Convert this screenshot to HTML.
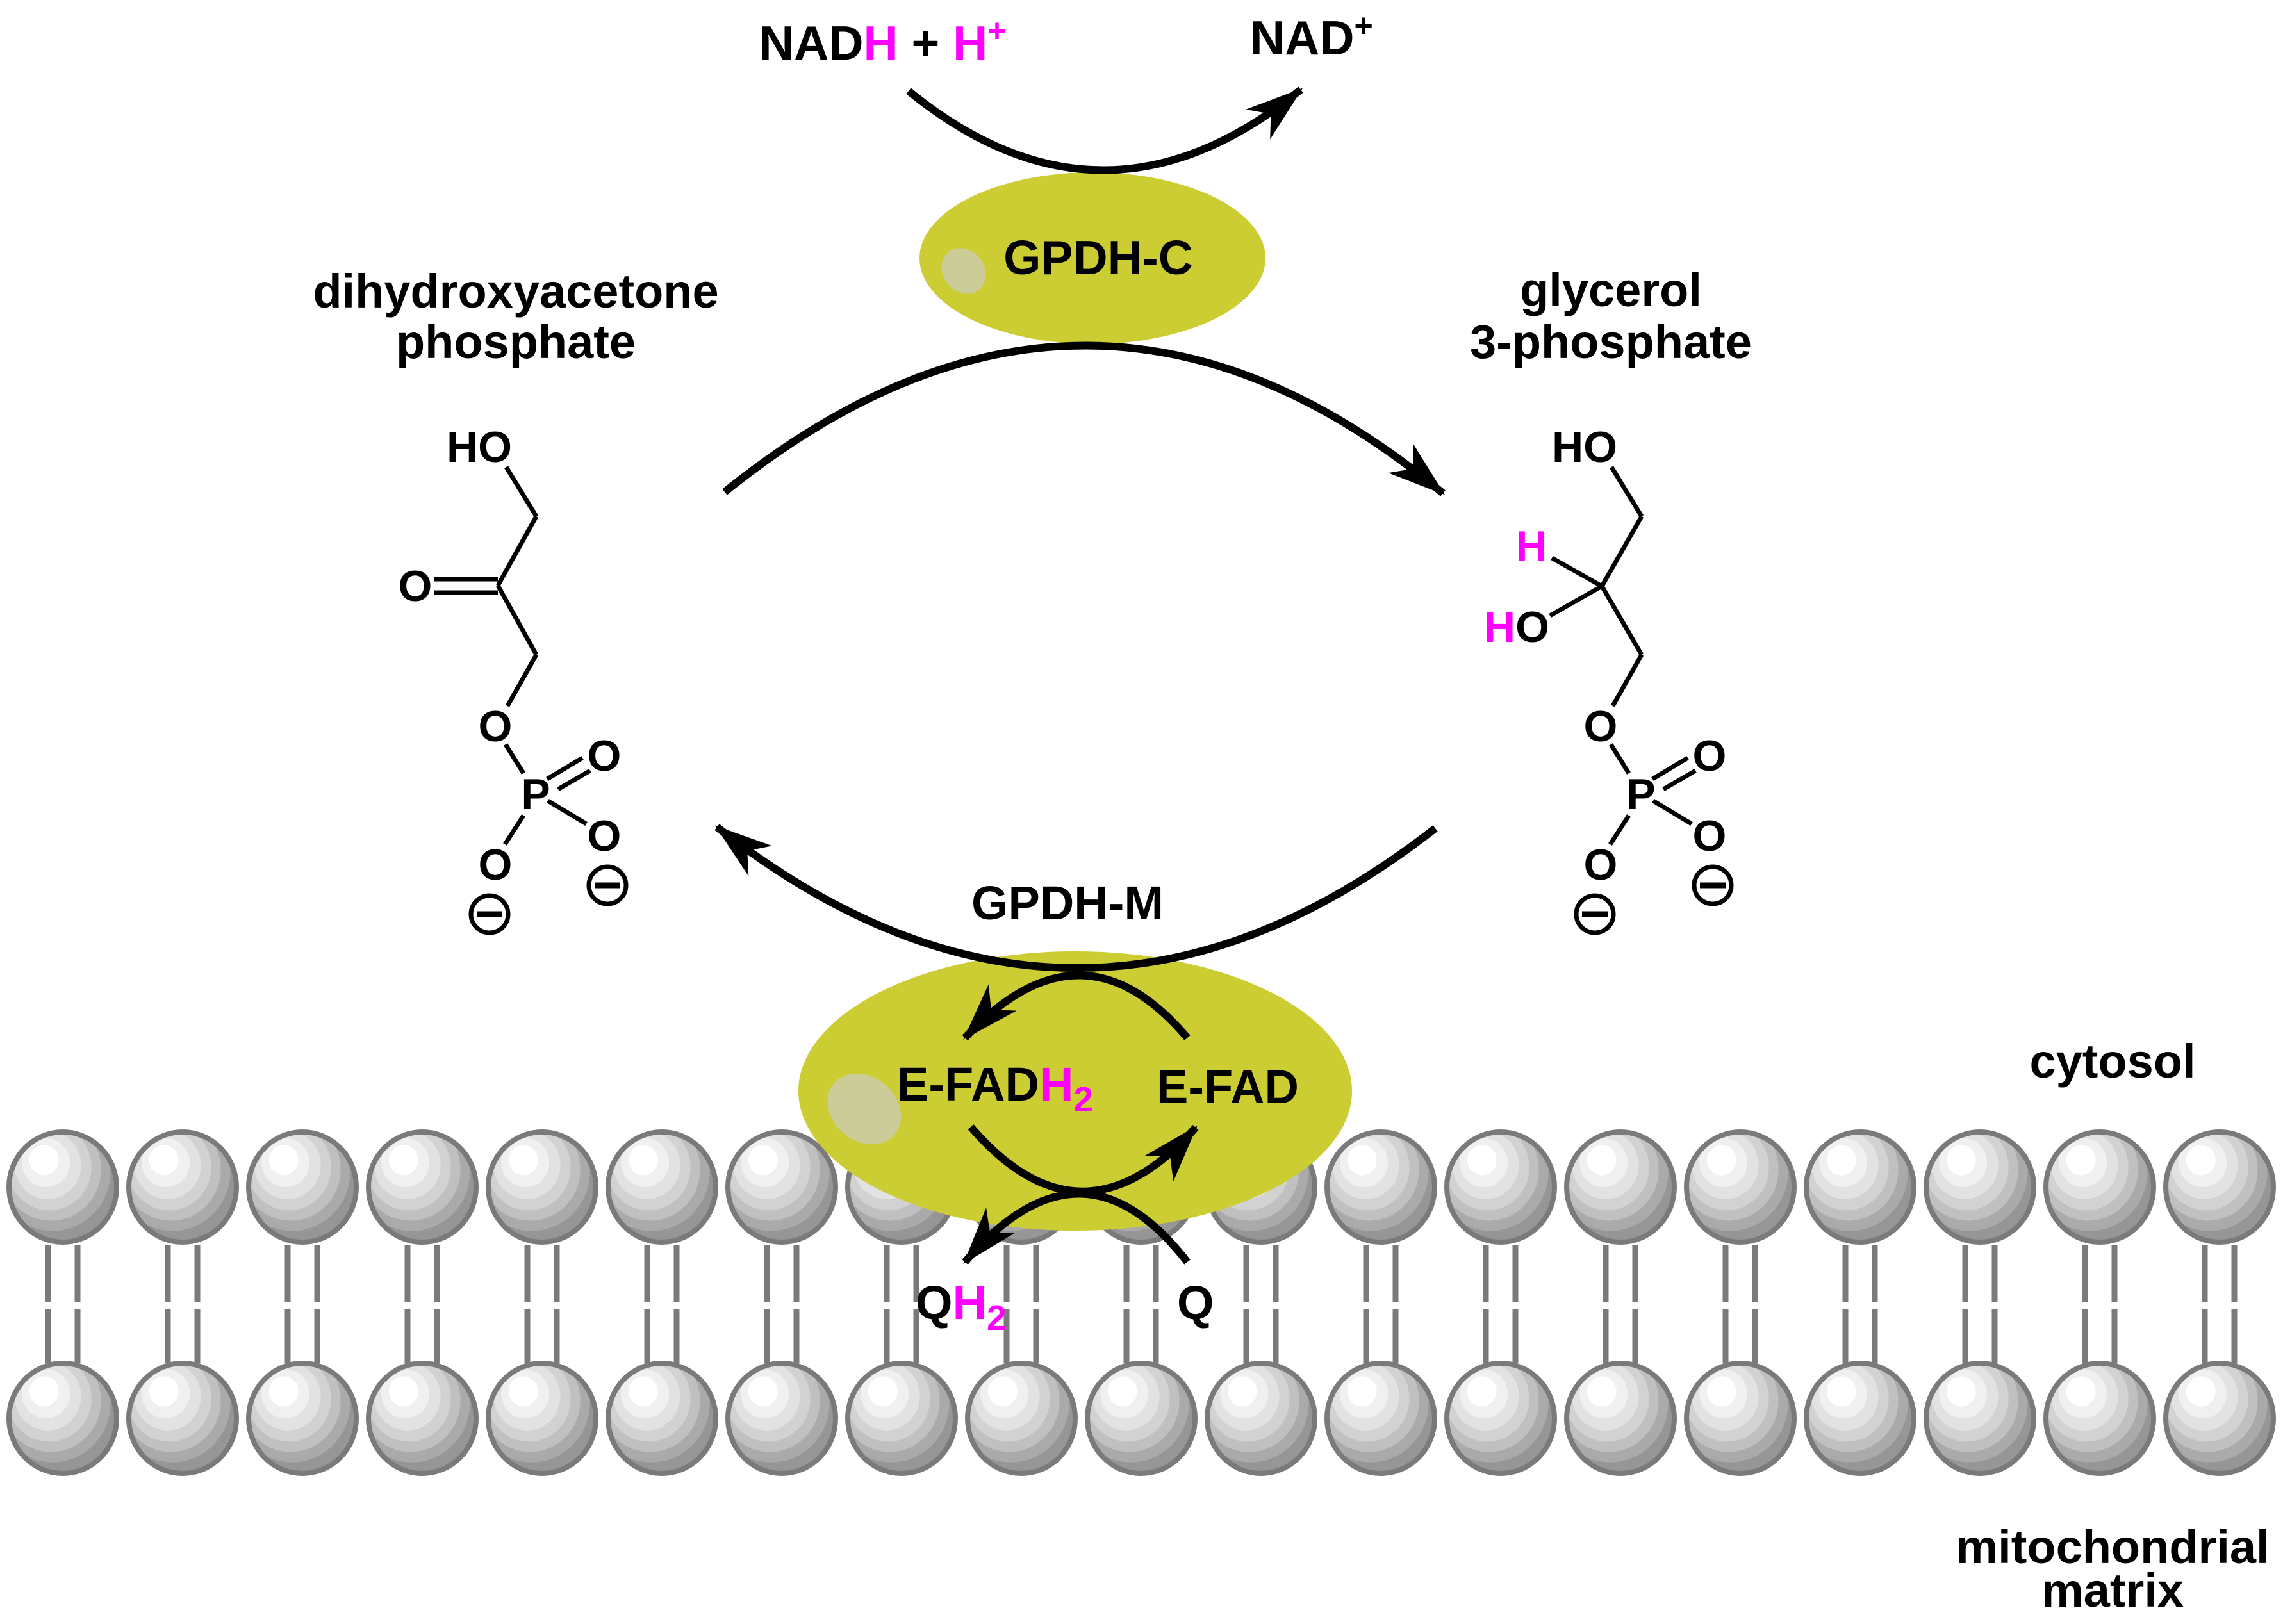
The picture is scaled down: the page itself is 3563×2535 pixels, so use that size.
<!DOCTYPE html>
<html><head><meta charset="utf-8"><style>
html,body{margin:0;padding:0;background:#fff;}
svg{display:block;}
text{font-family:"Liberation Sans",Arial,sans-serif;font-weight:bold;fill:#000;}
</style></head><body>
<svg width="3563" height="2535" viewBox="0 0 3563 2535" xmlns="http://www.w3.org/2000/svg">
<defs>
<radialGradient id="bead" cx="0.42" cy="0.38" r="0.62" fx="0.3" fy="0.22">
<stop offset="0" stop-color="#ffffff"/>
<stop offset="0.22" stop-color="#ffffff"/>
<stop offset="0.22" stop-color="#f0f0f0"/>
<stop offset="0.36" stop-color="#f0f0f0"/>
<stop offset="0.36" stop-color="#e2e2e2"/>
<stop offset="0.5" stop-color="#e2e2e2"/>
<stop offset="0.5" stop-color="#d2d2d2"/>
<stop offset="0.63" stop-color="#d2d2d2"/>
<stop offset="0.63" stop-color="#c0c0c0"/>
<stop offset="0.75" stop-color="#c0c0c0"/>
<stop offset="0.75" stop-color="#aaaaaa"/>
<stop offset="0.87" stop-color="#aaaaaa"/>
<stop offset="0.87" stop-color="#969696"/>
<stop offset="1" stop-color="#969696"/>
</radialGradient>
<marker id="ah" markerUnits="userSpaceOnUse" markerWidth="140" markerHeight="140" viewBox="-110 -70 130 140" refX="0" refY="0" orient="auto">
<path d="M4,0 L-86,-30 L-60,0 L-86,30 Z" fill="#000"/>
</marker>
<g id="lip">
<line x1="-23" y1="1944" x2="-23" y2="2033" stroke="#7a7a7a" stroke-width="9"/>
<line x1="23" y1="1944" x2="23" y2="2033" stroke="#7a7a7a" stroke-width="9"/>
<line x1="-23" y1="2044" x2="-23" y2="2128" stroke="#7a7a7a" stroke-width="9"/>
<line x1="23" y1="2044" x2="23" y2="2128" stroke="#7a7a7a" stroke-width="9"/>
<ellipse cx="0" cy="1853" rx="84" ry="86" fill="url(#bead)" stroke="#7a7a7a" stroke-width="8"/>
<ellipse cx="0" cy="2214" rx="84" ry="86" fill="url(#bead)" stroke="#7a7a7a" stroke-width="8"/>
</g>
<g id="minus">
<circle cx="0" cy="0" r="29" fill="none" stroke="#000" stroke-width="7"/>
<line x1="-20" y1="0" x2="20" y2="0" stroke="#000" stroke-width="9"/>
</g>
</defs>

<use href="#lip" x="98"/><use href="#lip" x="285"/><use href="#lip" x="472"/><use href="#lip" x="659"/>
<use href="#lip" x="846"/><use href="#lip" x="1033"/><use href="#lip" x="1220"/><use href="#lip" x="1407"/>
<use href="#lip" x="1594"/><use href="#lip" x="1781"/><use href="#lip" x="1968"/><use href="#lip" x="2155"/>
<use href="#lip" x="2342"/><use href="#lip" x="2529"/><use href="#lip" x="2716"/><use href="#lip" x="2903"/>
<use href="#lip" x="3090"/><use href="#lip" x="3277"/><use href="#lip" x="3464"/>

<ellipse cx="1678" cy="1703" rx="432" ry="218" fill="#cccc33"/>
<ellipse cx="1349" cy="1731" rx="62" ry="50" transform="rotate(40 1349 1731)" fill="#cccc99"/>

<ellipse cx="1705" cy="403" rx="270" ry="134" fill="#cccc33"/>
<ellipse cx="1504" cy="423" rx="38" ry="32" transform="rotate(50 1504 423)" fill="#cccc99"/>

<g fill="none" stroke="#000" stroke-width="12">
<path d="M1418,142 Q1722,390 2030,140" marker-end="url(#ah)"/>
<path d="M1131,768 Q1699,310 2252,770" marker-end="url(#ah)"/>
<path d="M2240,1293 Q1680,1730 1119,1291" marker-end="url(#ah)"/>
<path d="M1853,1620 Q1688,1425 1506,1620" marker-end="url(#ah)"/>
<path d="M1515,1759 Q1688,1960 1866,1760" marker-end="url(#ah)"/>
<path d="M1853,1970 Q1688,1757 1506,1970" marker-end="url(#ah)"/>
</g>

<text x="1185" y="93" font-size="75">NAD<tspan fill="#ff00ff">H</tspan> + <tspan fill="#ff00ff">H</tspan><tspan fill="#ff00ff" font-size="50" dy="-28">+</tspan></text>
<text x="1951" y="85" font-size="75">NAD<tspan font-size="50" dy="-28">+</tspan></text>
<text x="1714" y="428" font-size="75" text-anchor="middle">GPDH-C</text>
<text x="805" y="480" font-size="74" text-anchor="middle">dihydroxyacetone</text>
<text x="805" y="559" font-size="74" text-anchor="middle">phosphate</text>
<text x="2514" y="478" font-size="74" text-anchor="middle">glycerol</text>
<text x="2514" y="559" font-size="74" text-anchor="middle">3-phosphate</text>
<text x="1666" y="1435" font-size="74" text-anchor="middle">GPDH-M</text>
<text x="1400" y="1718" font-size="74">E-FAD<tspan fill="#ff00ff">H</tspan><tspan fill="#ff00ff" font-size="55" dy="17">2</tspan></text>
<text x="1805" y="1722" font-size="74">E-FAD</text>
<text x="1429" y="2059" font-size="74">Q<tspan fill="#ff00ff">H</tspan><tspan fill="#ff00ff" font-size="55" dy="17">2</tspan></text>
<text x="1837" y="2059" font-size="74">Q</text>
<text x="3297" y="1682" font-size="74" text-anchor="middle">cytosol</text>
<text x="3297" y="2440" font-size="74" text-anchor="middle">mitochondrial</text>
<text x="3297" y="2508" font-size="74" text-anchor="middle">matrix</text>

<g stroke="#000" stroke-width="7" fill="none">
<line x1="790" y1="729" x2="837" y2="806"/>
<line x1="837" y1="806" x2="777" y2="914"/>
<line x1="677" y1="904" x2="777" y2="904"/>
<line x1="677" y1="925" x2="777" y2="925"/>
<line x1="777" y1="914" x2="837" y2="1022"/>
<line x1="837" y1="1022" x2="792" y2="1102"/>
</g>
<g font-size="68">
<text x="748" y="721" text-anchor="middle">HO</text>
<text x="648" y="938" text-anchor="middle">O</text>
</g>
<g id="phos">
<g stroke="#000" stroke-width="7" fill="none">
<line x1="789" y1="1162" x2="817" y2="1207"/>
<line x1="854" y1="1216" x2="909" y2="1183"/>
<line x1="871" y1="1232" x2="921" y2="1203"/>
<line x1="855" y1="1250" x2="915" y2="1286"/>
<line x1="817" y1="1273" x2="788" y2="1318"/>
</g>
<g font-size="68" text-anchor="middle">
<text x="773" y="1157">O</text>
<text x="836" y="1263">P</text>
<text x="943" y="1203">O</text>
<text x="943" y="1328">O</text>
<text x="773" y="1373">O</text>
</g>
<use href="#minus" x="948" y="1382"/>
<use href="#minus" x="764" y="1427"/>
</g>

<g stroke="#000" stroke-width="7" fill="none">
<line x1="2515" y1="729" x2="2562" y2="806"/>
<line x1="2562" y1="806" x2="2500" y2="915"/>
<line x1="2422" y1="871" x2="2500" y2="915"/>
<line x1="2419" y1="961" x2="2500" y2="915"/>
<line x1="2500" y1="915" x2="2562" y2="1022"/>
<line x1="2562" y1="1022" x2="2517" y2="1102"/>
</g>
<g font-size="68">
<text x="2473" y="721" text-anchor="middle">HO</text>
<text x="2390" y="876" text-anchor="middle" style="fill:#ff00ff">H</text>
<text x="2316" y="1002"><tspan style="fill:#ff00ff">H</tspan>O</text>
</g>
<use href="#phos" x="1725" y="0"/>
</svg>
</body></html>
